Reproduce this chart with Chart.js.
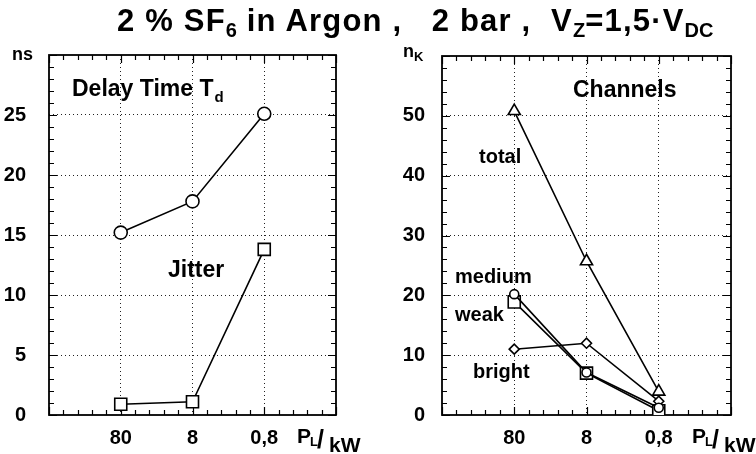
<!DOCTYPE html>
<html><head><meta charset="utf-8">
<script src="https://cdn.jsdelivr.net/npm/chart.js@4"></script>
<style>
html,body{margin:0;padding:0;background:#fff;width:756px;height:454px;overflow:hidden;}
#title{position:absolute;left:117px;top:4px;font:bold 31px "Liberation Sans",Arial,sans-serif;letter-spacing:1.2px;white-space:pre;color:#000;line-height:34px;}
#title sub{font-size:20px;vertical-align:-6px;line-height:0;letter-spacing:0;}
#c1{position:absolute;left:0;top:0;width:378px;height:454px;}
#c2{position:absolute;left:378px;top:0;width:378px;height:454px;}
</style></head><body>
<canvas id="c1" width="378" height="454"></canvas>
<canvas id="c2" width="378" height="454"></canvas>
<div id="title">2 % SF<sub>6</sub> in Argon ,   2 bar ,  V<sub>Z</sub>=1,5·V<sub>DC</sub></div>
<script>
// ---- data ----
const categories = ['80', '8', '0,8'];          // P_L / kW
const delayTime  = [15.2, 17.8, 25.1];           // ns
const jitter     = [0.9, 1.1, 13.8];             // ns
const chTotal    = [50.8, 25.7, 3.9];            // n_K
const chMedium   = [20.2, 7.1, 1.2];
const chWeak     = [18.9, 7.0, 0.7];
const chBright   = [11.0, 12.0, 2.3];
const leftYTicks  = [0, 5, 10, 15, 20, 25];
const rightYTicks = [0, 10, 20, 30, 40, 50];

const FONT = '"Liberation Sans", Arial, Helvetica, sans-serif';
const pts = arr => arr.map((v, i) => ({x: i, y: v}));

function ds(label, arr, style, r) {
  return {label, data: pts(arr), borderColor: '#000', borderWidth: 1.6,
    pointStyle: style, pointRadius: r, pointHoverRadius: r,
    pointBackgroundColor: '#fff', pointBorderColor: '#000', pointBorderWidth: 1.6,
    tension: 0, fill: false};
}

function txt(ctx, s, x, y, size) {
  ctx.font = 'bold ' + size + 'px ' + FONT;
  ctx.fillText(s, x, y);
  return ctx.measureText(s).width;
}

const framePlugin = {
  id: 'frame',
  beforeDatasetsDraw(chart, args, o) {
    const {ctx, chartArea: a, scales: {x, y}} = chart;
    ctx.save();
    ctx.strokeStyle = '#000';
    ctx.lineWidth = 1.2;
    ctx.beginPath();
    const nx = Math.round((x.max - x.min) / o.xMinor);
    for (let k = 0; k <= nx; k++) {
      const v = x.min + k * o.xMinor;
      const px = Math.round(x.getPixelForValue(v)) + 0.5;
      const L = (k % 5 === 0) ? 8 : 5;
      ctx.moveTo(px, a.bottom); ctx.lineTo(px, a.bottom - L);
      ctx.moveTo(px, a.top); ctx.lineTo(px, a.top + L);
    }
    const ny = Math.round((y.max - y.min) / o.yMinor);
    for (let k = 0; k <= ny; k++) {
      const v = y.min + k * o.yMinor;
      const py = Math.round(y.getPixelForValue(v)) + 0.5;
      const L = (k % 5 === 0) ? 8 : 5;
      ctx.moveTo(a.left, py); ctx.lineTo(a.left + L, py);
      ctx.moveTo(a.right, py); ctx.lineTo(a.right - L, py);
    }
    ctx.stroke();
    ctx.lineWidth = 1.8;
    ctx.strokeRect(a.left, a.top, a.right - a.left, a.bottom - a.top);
    ctx.restore();
  },
  afterDraw(chart, args, o) {
    const {ctx, chartArea: a} = chart;
    ctx.save();
    ctx.fillStyle = '#000';
    ctx.textBaseline = 'alphabetic';
    ctx.textAlign = 'left';
    // x-axis title P_L / kW
    txt(ctx, 'P', a.right - 39, a.bottom + 28, 21);
    txt(ctx, 'L', a.right - 26, a.bottom + 31, 13);
    txt(ctx, '/', a.right - 19, a.bottom + 33, 25);
    txt(ctx, 'kW', a.right - 7, a.bottom + 37, 21);
    // unit and annotation texts
    (o.texts || []).forEach(t => {
      const w = txt(ctx, t.s, a.left + t.dx, a.top + t.dy, t.size);
      if (t.sub) txt(ctx, t.sub, a.left + t.dx + w + (t.subGap || 0), a.top + t.dy + t.subDy, t.subSize);
    });
    ctx.restore();
  }
};

function makeChart(id, datasets, yMax, yTicks, yPad, pad, opts) {
  const gridColor = c => (c.tick && (c.tick.value === 0 || c.tick.value === yMax)) ? 'rgba(0,0,0,0)' : '#222';
  return new Chart(document.getElementById(id), {
    type: 'line',
    data: {datasets},
    plugins: [framePlugin],
    options: {
      responsive: false, animation: false, events: [],
      layout: {padding: pad},
      plugins: {legend: {display: false}, tooltip: {enabled: false}, title: {display: false}, frame: opts},
      scales: {
        x: {
          type: 'linear', min: -1, max: 3,
          afterBuildTicks: s => { s.ticks = categories.map((c, i) => ({value: i})); },
          afterFit: s => { s.height = 39; },
          ticks: {callback: v => categories[v] ?? '', color: '#000', padding: 11, maxRotation: 0, autoSkip: false,
                  font: {family: FONT, size: 20, weight: 'bold'}},
          grid: {color: '#222', lineWidth: 1, drawTicks: false},
          border: {display: false, dash: [1, 3]}
        },
        y: {
          type: 'linear', min: 0, max: yMax,
          afterBuildTicks: s => { s.ticks = yTicks.map(v => ({value: v})); },
          afterFit: s => { s.width = opts.yWidth; },
          ticks: {color: '#000', padding: yPad, font: {family: FONT, size: 20, weight: 'bold'}},
          grid: {color: gridColor, lineWidth: 1, drawTicks: false},
          border: {display: false, dash: [1, 3]}
        }
      }
    }
  });
}

makeChart('c1',
  [ds('Delay Time', delayTime, 'circle', 6.5), ds('Jitter', jitter, 'rect', 8.5)],
  30, leftYTicks, 23, {left: 0, right: 42, top: 55, bottom: 0},
  {xMinor: 0.2, yMinor: 1, yWidth: 49, texts: [
    {s: 'ns', dx: -37, dy: 5, size: 18},
    {s: 'Delay Time T', dx: 23, dy: 41, size: 23, sub: 'd', subDy: 6, subSize: 15, subGap: 1},
    {s: 'Jitter', dx: 119, dy: 222, size: 23}
  ]});

makeChart('c2',
  [ds('total', chTotal, 'triangle', 7), ds('medium', chMedium, 'circle', 4.5),
   ds('weak', chWeak, 'rect', 8.5), ds('bright', chBright, 'rectRot', 5)],
  60, rightYTicks, 17, {left: 0, right: 25, top: 56, bottom: 0},
  {xMinor: 0.2, yMinor: 2, yWidth: 64, texts: [
    {s: 'n', dx: -39, dy: 1, size: 18, sub: 'K', subDy: 4, subSize: 13, subGap: 0},
    {s: 'Channels', dx: 131, dy: 41, size: 23},
    {s: 'total', dx: 37, dy: 107, size: 20},
    {s: 'medium', dx: 13, dy: 227, size: 20},
    {s: 'weak', dx: 13, dy: 265, size: 20},
    {s: 'bright', dx: 31, dy: 322, size: 20}
  ]});
</script>
</body></html>
